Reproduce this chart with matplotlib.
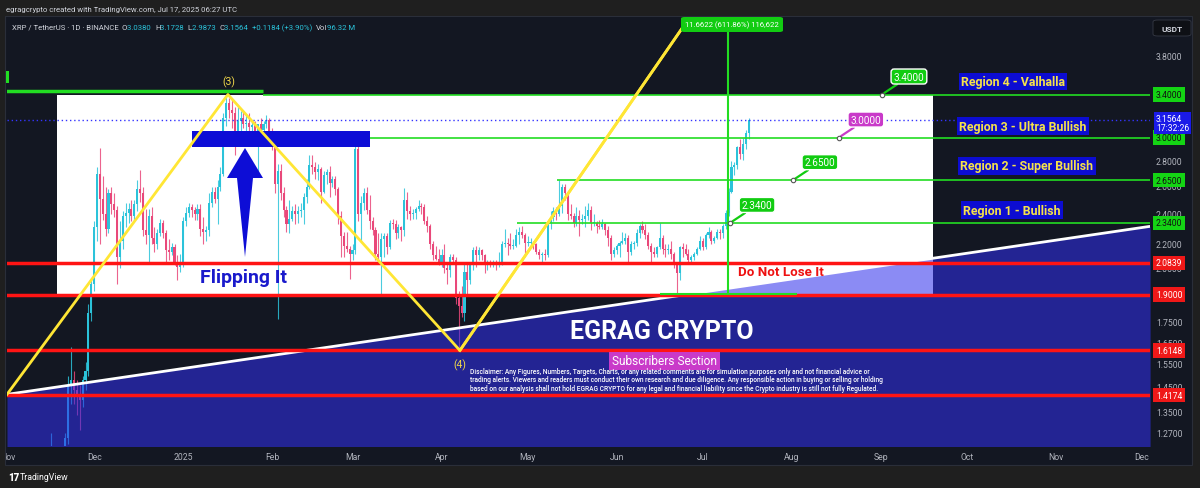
import datetime as dt
import numpy as np
import matplotlib
matplotlib.use("Agg")
import matplotlib.pyplot as plt
from matplotlib.patches import Rectangle, Polygon, FancyBboxPatch
from matplotlib.transforms import Bbox, TransformedBbox

plt.rcParams['font.family'] = ['Roboto', 'DejaVu Sans']

W, H = 1200, 489
T0 = dt.date(2024, 11, 1)   # day 0 on the time axis

# ---- XRP / USDT daily candles (open, high, low, close) ----
nov_start = dt.date(2024, 11, 16)
nov = [(0.91, 1.27, 0.90, 1.09), (1.09, 1.19, 0.98, 1.05), (1.05, 1.16, 1.00, 1.13),
       (1.13, 1.17, 1.05, 1.09), (1.09, 1.18, 1.04, 1.11), (1.11, 1.27, 1.10, 1.25),
       (1.25, 1.50, 1.23, 1.46), (1.46, 1.63, 1.38, 1.48), (1.48, 1.52, 1.38, 1.44),
       (1.44, 1.48, 1.34, 1.41), (1.41, 1.46, 1.28, 1.40), (1.40, 1.50, 1.37, 1.48),
       (1.48, 1.56, 1.44, 1.52), (1.52, 1.85, 1.50, 1.80), (1.80, 1.99, 1.76, 1.96)]
dec_start = dt.date(2024, 12, 1)
dec = [(1.96, 2.35, 1.92, 2.31), (2.31, 2.75, 2.22, 2.70), (2.70, 2.91, 2.20, 2.51),
       (2.51, 2.68, 2.36, 2.40), (2.40, 2.60, 2.25, 2.30), (2.30, 2.58, 2.27, 2.55),
       (2.55, 2.60, 2.40, 2.47), (2.47, 2.55, 2.38, 2.43), (2.43, 2.46, 1.96, 2.12),
       (2.12, 2.35, 2.05, 2.22), (2.22, 2.42, 2.17, 2.39), (2.39, 2.48, 2.31, 2.41),
       (2.41, 2.48, 2.34, 2.44), (2.44, 2.50, 2.35, 2.39), (2.39, 2.50, 2.36, 2.47),
       (2.47, 2.65, 2.42, 2.58), (2.58, 2.73, 2.49, 2.55), (2.55, 2.60, 2.25, 2.29),
       (2.29, 2.44, 2.20, 2.26), (2.26, 2.44, 2.09, 2.39), (2.39, 2.45, 2.20, 2.24),
       (2.24, 2.31, 2.15, 2.20), (2.20, 2.30, 2.17, 2.27), (2.27, 2.37, 2.25, 2.34),
       (2.34, 2.36, 2.24, 2.27), (2.27, 2.29, 2.09, 2.16), (2.16, 2.23, 2.10, 2.15),
       (2.15, 2.21, 2.13, 2.18), (2.18, 2.20, 2.07, 2.09), (2.09, 2.13, 1.98, 2.06),
       (2.06, 2.14, 2.03, 2.08)]
jan_start = dt.date(2025, 1, 1)
jan = [(2.08, 2.38, 2.06, 2.35), (2.35, 2.45, 2.32, 2.41), (2.41, 2.48, 2.38, 2.45),
       (2.45, 2.47, 2.38, 2.43), (2.43, 2.45, 2.36, 2.40), (2.40, 2.47, 2.36, 2.44),
       (2.44, 2.47, 2.25, 2.30), (2.30, 2.38, 2.20, 2.28), (2.28, 2.32, 2.22, 2.29),
       (2.29, 2.55, 2.25, 2.48), (2.48, 2.60, 2.45, 2.56), (2.56, 2.60, 2.48, 2.51),
       (2.51, 2.65, 2.33, 2.60), (2.60, 2.75, 2.57, 2.70), (2.70, 3.22, 2.68, 3.18),
       (3.18, 3.40, 3.10, 3.32), (3.32, 3.37, 3.18, 3.25), (3.25, 3.35, 3.08, 3.22),
       (3.22, 3.28, 2.85, 3.05), (3.05, 3.28, 2.97, 3.15), (3.15, 3.24, 3.05, 3.18),
       (3.18, 3.23, 3.08, 3.12), (3.12, 3.20, 2.97, 3.13), (3.13, 3.22, 3.05, 3.09),
       (3.09, 3.15, 3.05, 3.11), (3.11, 3.15, 3.04, 3.06), (3.06, 3.12, 2.72, 3.12),
       (3.12, 3.18, 3.03, 3.07), (3.07, 3.15, 3.02, 3.12), (3.12, 3.20, 3.08, 3.16),
       (3.16, 3.18, 3.01, 3.05)]
feb_start = dt.date(2025, 2, 1)
feb = [(3.05, 3.08, 2.89, 2.93), (2.93, 2.95, 2.55, 2.62), (2.62, 2.78, 1.77, 2.72),
       (2.72, 2.78, 2.50, 2.55), (2.55, 2.60, 2.38, 2.43), (2.43, 2.46, 2.28, 2.33),
       (2.33, 2.50, 2.27, 2.37), (2.37, 2.46, 2.35, 2.42), (2.42, 2.47, 2.33, 2.40),
       (2.40, 2.46, 2.34, 2.42), (2.42, 2.48, 2.38, 2.43), (2.43, 2.55, 2.33, 2.52),
       (2.52, 2.66, 2.48, 2.60), (2.60, 2.85, 2.58, 2.77), (2.77, 2.85, 2.70, 2.75),
       (2.75, 2.79, 2.66, 2.71), (2.71, 2.78, 2.65, 2.74), (2.74, 2.75, 2.48, 2.56),
       (2.56, 2.72, 2.55, 2.69), (2.69, 2.74, 2.62, 2.71), (2.71, 2.76, 2.52, 2.63),
       (2.63, 2.68, 2.60, 2.66), (2.66, 2.68, 2.54, 2.58), (2.58, 2.60, 2.33, 2.39),
       (2.39, 2.42, 2.12, 2.25), (2.25, 2.28, 2.12, 2.19), (2.19, 2.28, 2.15, 2.17),
       (2.17, 2.19, 1.99, 2.14)]
mar_start = dt.date(2025, 3, 1)
mar = [(2.14, 2.20, 2.10, 2.16), (2.16, 3.00, 2.14, 2.90), (2.90, 2.94, 2.35, 2.40),
       (2.40, 2.53, 2.22, 2.48), (2.48, 2.59, 2.43, 2.55), (2.55, 2.60, 2.40, 2.43),
       (2.43, 2.54, 2.30, 2.35), (2.35, 2.38, 2.26, 2.29), (2.29, 2.31, 2.10, 2.14),
       (2.14, 2.27, 2.08, 2.12), (2.12, 2.27, 1.90, 2.23), (2.23, 2.27, 2.12, 2.25),
       (2.25, 2.27, 2.14, 2.18), (2.18, 2.36, 2.17, 2.34), (2.34, 2.37, 2.30, 2.33),
       (2.33, 2.36, 2.23, 2.27), (2.27, 2.33, 2.24, 2.31), (2.31, 2.32, 2.22, 2.29),
       (2.29, 2.59, 2.25, 2.50), (2.50, 2.56, 2.37, 2.42), (2.42, 2.46, 2.36, 2.40),
       (2.40, 2.44, 2.37, 2.41), (2.41, 2.45, 2.37, 2.44), (2.44, 2.50, 2.42, 2.46),
       (2.46, 2.48, 2.40, 2.45), (2.45, 2.47, 2.33, 2.35), (2.35, 2.39, 2.28, 2.32),
       (2.32, 2.33, 2.17, 2.20), (2.20, 2.22, 2.10, 2.13), (2.13, 2.19, 2.10, 2.11),
       (2.11, 2.17, 2.07, 2.09)]
apr_start = dt.date(2025, 4, 1)
apr = [(2.09, 2.17, 2.06, 2.13), (2.13, 2.20, 2.02, 2.05), (2.05, 2.08, 1.96, 2.04),
       (2.04, 2.14, 2.00, 2.12), (2.12, 2.14, 2.08, 2.10), (2.10, 2.12, 1.85, 1.88),
       (1.88, 1.92, 1.61, 1.84), (1.84, 1.95, 1.78, 1.80), (1.80, 2.08, 1.76, 2.03),
       (2.03, 2.08, 1.90, 1.98), (1.98, 2.09, 1.96, 2.07), (2.07, 2.18, 2.04, 2.16),
       (2.16, 2.19, 2.06, 2.13), (2.13, 2.18, 2.10, 2.16), (2.16, 2.17, 2.10, 2.13),
       (2.13, 2.14, 2.02, 2.07), (2.07, 2.10, 2.04, 2.09), (2.09, 2.10, 2.06, 2.07),
       (2.07, 2.10, 2.06, 2.09), (2.09, 2.10, 2.04, 2.07), (2.07, 2.15, 2.06, 2.09),
       (2.09, 2.22, 2.07, 2.20), (2.20, 2.30, 2.18, 2.21), (2.21, 2.24, 2.13, 2.20),
       (2.20, 2.27, 2.17, 2.19), (2.19, 2.23, 2.17, 2.19), (2.19, 2.30, 2.18, 2.26),
       (2.26, 2.31, 2.20, 2.28), (2.28, 2.32, 2.24, 2.26), (2.26, 2.27, 2.13, 2.21)]
may_start = dt.date(2025, 5, 1)
may = [(2.21, 2.25, 2.19, 2.21), (2.21, 2.24, 2.19, 2.21), (2.21, 2.22, 2.17, 2.20),
       (2.20, 2.21, 2.14, 2.15), (2.15, 2.17, 2.11, 2.13), (2.13, 2.15, 2.09, 2.14),
       (2.14, 2.17, 2.10, 2.13), (2.13, 2.35, 2.12, 2.34), (2.34, 2.42, 2.30, 2.38),
       (2.38, 2.45, 2.35, 2.42), (2.42, 2.45, 2.36, 2.40), (2.40, 2.65, 2.39, 2.46),
       (2.46, 2.62, 2.41, 2.60), (2.60, 2.62, 2.50, 2.55), (2.55, 2.56, 2.36, 2.40),
       (2.40, 2.47, 2.37, 2.39), (2.39, 2.41, 2.31, 2.34), (2.34, 2.45, 2.32, 2.39),
       (2.39, 2.43, 2.25, 2.36), (2.36, 2.40, 2.33, 2.37), (2.37, 2.46, 2.31, 2.39),
       (2.39, 2.48, 2.36, 2.43), (2.43, 2.46, 2.29, 2.34), (2.34, 2.40, 2.32, 2.34),
       (2.34, 2.35, 2.27, 2.32), (2.32, 2.36, 2.30, 2.31), (2.31, 2.37, 2.30, 2.33),
       (2.33, 2.34, 2.26, 2.29), (2.29, 2.32, 2.19, 2.24), (2.24, 2.26, 2.10, 2.14),
       (2.14, 2.18, 2.12, 2.16)]
jun_start = dt.date(2025, 6, 1)
jun = [(2.16, 2.20, 2.14, 2.19), (2.19, 2.22, 2.12, 2.21), (2.21, 2.28, 2.20, 2.22),
       (2.22, 2.27, 2.20, 2.24), (2.24, 2.26, 2.08, 2.15), (2.15, 2.22, 2.13, 2.20),
       (2.20, 2.22, 2.17, 2.21), (2.21, 2.30, 2.19, 2.27), (2.27, 2.33, 2.24, 2.32),
       (2.32, 2.35, 2.27, 2.29), (2.29, 2.33, 2.23, 2.26), (2.26, 2.28, 2.17, 2.19),
       (2.19, 2.21, 2.08, 2.15), (2.15, 2.18, 2.12, 2.14), (2.14, 2.19, 2.12, 2.18),
       (2.18, 2.34, 2.17, 2.24), (2.24, 2.26, 2.14, 2.17), (2.17, 2.20, 2.12, 2.16),
       (2.16, 2.20, 2.14, 2.17), (2.17, 2.22, 2.11, 2.14), (2.14, 2.15, 2.05, 2.07),
       (2.07, 2.09, 1.91, 2.02), (2.02, 2.19, 1.98, 2.18), (2.18, 2.21, 2.12, 2.17),
       (2.17, 2.20, 2.13, 2.14), (2.14, 2.17, 2.08, 2.10), (2.10, 2.13, 2.08, 2.12),
       (2.12, 2.15, 2.10, 2.14), (2.14, 2.18, 2.13, 2.17), (2.17, 2.25, 2.16, 2.22)]
jul_start = dt.date(2025, 7, 1)
jul = [(2.22, 2.24, 2.16, 2.18), (2.18, 2.27, 2.17, 2.26), (2.26, 2.31, 2.24, 2.28),
       (2.28, 2.29, 2.20, 2.22), (2.22, 2.25, 2.21, 2.24), (2.24, 2.30, 2.23, 2.28),
       (2.28, 2.30, 2.23, 2.27), (2.27, 2.33, 2.24, 2.32), (2.32, 2.43, 2.30, 2.41),
       (2.41, 2.59, 2.39, 2.56), (2.56, 2.80, 2.55, 2.75), (2.75, 2.79, 2.69, 2.77),
       (2.77, 2.93, 2.74, 2.92), (2.92, 2.99, 2.82, 2.86), (2.86, 3.00, 2.81, 2.94),
       (2.94, 3.07, 2.90, 3.038), (3.038, 3.1728, 2.9873, 3.1564)]

# ---- drawn levels / tools ----
green_levels = [3.40, 3.00, 2.65, 2.34]
red_levels = [2.0839, 1.90, 1.6148, 1.4174]
last_price = 3.1564
axis_ticks = [3.8, 3.2, 2.8, 2.6, 2.4, 2.2, 2.05, 1.75, 1.65, 1.55, 1.45, 1.35, 1.27]
month_labels = [(2024, 11, 'Nov'), (2024, 12, 'Dec'), (2025, 1, '2025'), (2025, 2, 'Feb'),
                (2025, 3, 'Mar'), (2025, 4, 'Apr'), (2025, 5, 'May'), (2025, 6, 'Jun'),
                (2025, 7, 'Jul'), (2025, 8, 'Aug'), (2025, 9, 'Sep'), (2025, 10, 'Oct'),
                (2025, 11, 'Nov'), (2025, 12, 'Dec')]
zig_days = [-0.35, 76.6, 157.4, 237.5]
zig_prices = [1.421, 3.40, 1.6148, 4.26]
trend_days = [-0.35, 397.8]
trend_prices = [1.421, 2.317]
notes = [(304.4, 3.40, '3.4000', '#11cc11'), (289.4, 3.00, '3.0000', '#c93ac9'),
         (273.4, 2.65, '2.6500', '#11cc11'), (251.5, 2.34, '2.3400', '#11cc11')]

UP, DOWN = '#2bc3da', '#e9487a'
GREEN, RED = '#22dd22', '#ff1414'


def P(x, y):
    return (x / W, 1 - y / H)


fig = plt.figure(figsize=(W / 100, H / 100), dpi=100, facecolor='#1f1f1f')
fig.add_artist(Rectangle(P(5, 466), 1187 / W, 449 / H, transform=fig.transFigure,
                         fc='#131722', ec='#2a2e39', lw=0.8, zorder=-1))

ax = fig.add_axes([7 / W, 1 - 447 / H, 1143 / W, 429 / H])
ax.set_facecolor('#131722')
ax.set_yscale('log')
ax.set_xlim((7 - 8) / 2.871, (1150 - 8) / 2.871)
ax.set_ylim(1.2229, 4.260)
ax.set_xticks([])
ax.set_yticks([])
ax.minorticks_off()
for s in ax.spines.values():
    s.set_visible(False)

# white zone and candles
ax.add_patch(Rectangle((17.07, 1.90), 322.2 - 17.07, 3.40 - 1.90, fc='white', ec='none', zorder=1))

months = [(nov_start, nov), (dec_start, dec), (jan_start, jan), (feb_start, feb), (mar_start, mar),
          (apr_start, apr), (may_start, may), (jun_start, jun), (jul_start, jul)]
for start, rows in months:
    d0 = (start - T0).days
    for i, (o, h, l, c) in enumerate(rows):
        col = UP if c >= o else DOWN
        ax.vlines(d0 + i, l, h, color=col, lw=0.8, alpha=0.85, zorder=2)
        ax.bar(d0 + i, max(abs(c - o), 0.004), bottom=min(o, c), width=0.72,
               color=col, zorder=2.1)

# rising support fill
ax.fill_between(trend_days, trend_prices, [1.0, 1.0], color='#3030ed', alpha=0.56, lw=0, zorder=3)
ax.plot(trend_days, trend_prices, color='white', lw=2, zorder=4, solid_capstyle='butt')

# horizontal levels
for p in red_levels:
    ax.axhline(p, color=RED, lw=2.5, zorder=4)
ax.hlines(3.432, -1, 88.8, color=GREEN, lw=2.5, zorder=4)
ax.hlines(3.40, 88.8, 400, color=GREEN, lw=1.2, zorder=4)
ax.hlines(3.00, 126.1, 400, color=GREEN, lw=1.2, zorder=4)
ax.hlines(2.65, 191.3, 400, color=GREEN, lw=1.2, zorder=4)
ax.hlines(2.34, 177.4, 400, color=GREEN, lw=1.2, zorder=4)
ax.axhline(last_price, color='#3434ff', lw=1, ls=(0, (1, 2)), zorder=4)

# price range tool
ax.vlines(250.8, 1.90, 5, color=GREEN, lw=1.5, zorder=4)
ax.hlines(1.905, 227.1, 274.8, color=GREEN, lw=1.5, zorder=4.1)

# supply box + arrow
ax.add_patch(Rectangle((64.1, 2.922), 62.0, 3.055 - 2.922, fc='#0d0dd6', ec='none', zorder=4))
arrow = [P(245, 149), P(263, 179), P(253, 179), P(245, 258), P(237, 179), P(227, 179)]
fig.add_artist(Polygon(arrow, closed=True, transform=fig.transFigure, fc='#0d0dd6', ec='none', zorder=2))

# wave zigzag
ax.plot(zig_days, zig_prices, color='#ffe635', lw=2, zorder=5)

# measurement label at top
fig.add_artist(FancyBboxPatch(P(681, 33), 102 / W, 15 / H, boxstyle='round,pad=0,rounding_size=0.003',
                              transform=fig.transFigure, fc='#12cc12', ec='none', zorder=1.5))
fig.text(*P(732, 25.5), '11.6622 (611.86%) 116,622', color='white', fontsize=5.6,
         ha='center', va='center', zorder=1.6)
ax.plot([zig_days[2], zig_days[3]], [zig_prices[2], zig_prices[3]], color='#ffe635', lw=2, zorder=6)

# price notes
for d, p, txt, fc in notes:
    ax.annotate(txt, xy=(d, p), xytext=(27, 18), textcoords='offset pixels', ha='center', va='center',
                color='white', fontsize=7.2, zorder=7,
                bbox=dict(boxstyle='round,pad=0.25,rounding_size=0.3', fc=fc, ec='white', lw=1),
                arrowprops=dict(arrowstyle='-', color=fc, lw=1.6, shrinkA=0, shrinkB=2))
    ax.plot(d, p, 'o', ms=3.2, mfc='white', mec='#555555', mew=0.8, zorder=8)

# region labels
regions = [(1013, 82.5, 'Region 4 - Valhalla'), (1023, 127, 'Region 3 - Ultra Bullish'),
           (1027, 167, 'Region 2 - Super Bullish'), (1012, 211, 'Region 1 - Bullish')]
for x, y, txt in regions:
    fig.text(*P(x, y), txt, color='#f5e24a', fontsize=8.9, fontweight='bold', ha='center', va='center',
             bbox=dict(boxstyle='square,pad=0.18', fc='#0c0cd2', ec='none'), zorder=5)

# chart texts
fig.text(*P(228.5, 82), '(3)', color='#f2d94a', fontsize=7.5, ha='center', va='center', zorder=5)
fig.text(*P(460, 365), '(4)', color='#f2d94a', fontsize=7.5, ha='center', va='center', zorder=5)
fig.text(*P(243, 278), 'Flipping It', color='#1a1acc', fontsize=14, fontweight='bold',
         ha='center', va='center', zorder=5)
fig.text(*P(781, 272), 'Do Not Lose It', color='#ee1111', fontsize=9.6, fontweight='bold',
         ha='center', va='center', zorder=5)
fig.text(*P(662, 332), 'EGRAG CRYPTO', color='white', fontsize=18, fontweight='bold',
         ha='center', va='center', zorder=5)
fig.text(*P(664.5, 362), 'Subscribers Section', color='white', fontsize=8.6, ha='center', va='center',
         bbox=dict(boxstyle='square,pad=0.25', fc='#c93ac9', ec='none'), zorder=5)
disclaimer = ("Disclaimer: Any Figures, Numbers, Targets, Charts, or any related comments are for simulation "
              "purposes only and not financial advice or\n"
              "trading alerts. Viewers and readers must conduct their own research and due diligence. Any "
              "responsible action in buying or selling or holding\n"
              "based on our analysis shall not hold EGRAG CRYPTO for any legal and financial liability since "
              "the Crypto industry is still not fully Regulated.")
fig.text(*P(470, 380.5), disclaimer, color='white', fontsize=4.75, fontweight='medium',
         ha='left', va='center', linespacing=1.1, zorder=5)

# green tag at the left edge
fig.add_artist(Rectangle(P(6, 84), 3 / W, 12 / H, transform=fig.transFigure, fc=GREEN, ec='none', zorder=5))

# ---- price scale (level tags cover part of the regular labels, as on the original) ----
ytr = ax.get_yaxis_transform()
for p in axis_ticks:
    ax.text(1.0052, p, f'{p:.4f}', transform=ytr, color='#b2b5be', fontsize=6.2, va='center',
            ha='left', clip_on=False, zorder=5)
for p in green_levels:
    ax.text(1.0052, p, f'{p:.4f}', transform=ytr, color='#111111', fontsize=6.2, va='center', ha='left',
            clip_on=False, zorder=6, bbox=dict(boxstyle='square,pad=0.3', fc='#14d414', ec='none'))
for p in red_levels:
    ax.text(1.0052, p, f'{p:.4f}', transform=ytr, color='white', fontsize=6.2, va='center', ha='left',
            clip_on=False, zorder=6, bbox=dict(boxstyle='square,pad=0.3', fc='#f01818', ec='none'))
ax.text(1.0052, last_price * 0.992, '3.1564\n17:32:26', transform=ytr, color='white', fontsize=6.2,
        va='center', ha='left', linespacing=1.0, clip_on=False, zorder=7,
        bbox=dict(boxstyle='square,pad=0.2', fc='#1a1ae8', ec='none'))
fig.add_artist(FancyBboxPatch(P(1153, 37), 38 / W, 16 / H, boxstyle='round,pad=0,rounding_size=0.004',
                              transform=fig.transFigure, fc='#0e1015', ec='#363a45', lw=0.6, zorder=5))
fig.text(*P(1172, 29), 'USDT', color='#d1d4dc', fontsize=6, fontweight='bold', ha='center',
         va='center', zorder=6)

# ---- time scale ----
clip = TransformedBbox(Bbox.from_extents(6 / W, 0, 1192 / W, 1), fig.transFigure)
xtr = ax.get_xaxis_transform()
for yy, mm, lab in month_labels:
    d = (dt.date(yy, mm, 1) - T0).days
    t = ax.text(d, (447 - 457) / 429, lab, transform=xtr, color='#b2b5be', fontsize=6.2,
                ha='center', va='center', zorder=5)
    t.set_clip_box(clip)
    t.set_clip_on(True)

# ---- header / legend / footer ----
fig.text(*P(6, 10), 'egragcrypto created with TradingView.com, Jul 17, 2025 06:27 UTC', color='#d1d4dc',
         fontsize=5.6, ha='left', va='center')

renderer = fig.canvas.get_renderer()
legend = [('XRP / TetherUS \u00b7 1D \u00b7 BINANCE  ', '#d1d4dc'), ('O', '#d1d4dc'), ('3.0380  ', UP),
          ('H', '#d1d4dc'), ('3.1728  ', UP), ('L', '#d1d4dc'), ('2.9873  ', UP),
          ('C', '#d1d4dc'), ('3.1564  ', UP), ('+0.1184 (+3.90%)  ', UP), ('Vol', '#d1d4dc'), ('96.32 M', UP)]
x0 = 11.5
for txt, col in legend:
    t = fig.text(*P(x0, 28), txt, color=col, fontsize=5.6, ha='left', va='center', zorder=6)
    x0 += t.get_window_extent(renderer).width

fig.text(*P(8, 478), '17', color='white', fontsize=7, fontweight='black', ha='left', va='center')
fig.text(*P(20, 478), 'TradingView', color='white', fontsize=6.3, ha='left', va='center')

fig.savefig('out.png', dpi=100, facecolor=fig.get_facecolor())
